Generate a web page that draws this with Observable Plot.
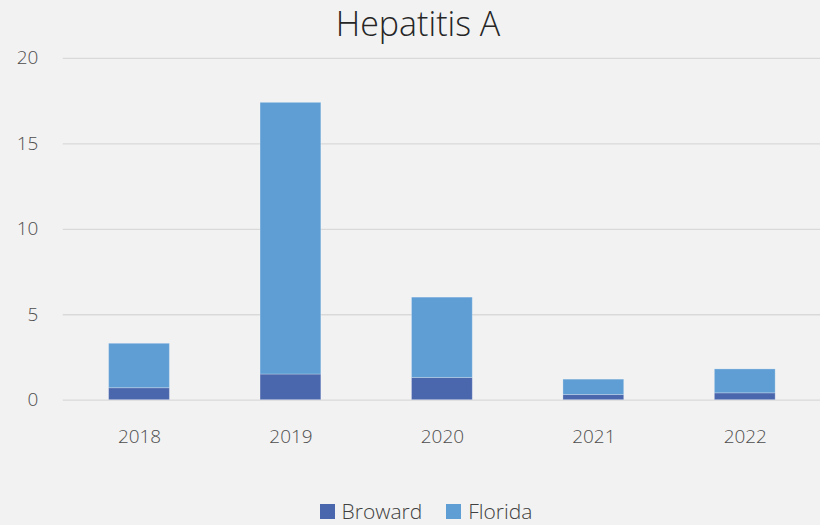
<!DOCTYPE html>
<html>
<head>
<meta charset="utf-8">
<script src="https://cdn.jsdelivr.net/npm/d3@7"></script>
<script src="https://cdn.jsdelivr.net/npm/@observablehq/plot@0.6"></script>
<style>
  html, body { margin: 0; padding: 0; background: #f2f2f2; width: 820px; height: 525px; overflow: hidden; font-family: "Open Sans", sans-serif; }
  #title { position: absolute; left: 8px; top: 0; width: 820px; text-align: center; font-size: 34px; font-weight: 300; color: #262626; line-height: 46px; }
  #chart { position: absolute; left: 0; top: 38px; }
  #legend { position: absolute; left: 16px; top: 497px; width: 820px; display: flex; justify-content: center; align-items: center; font-size: 21px; color: #404040; font-weight: 300;}
  .item { display: flex; align-items: center; margin: 0 12px; }
  .sw { width: 15px; height: 15px; margin-right: 7px; }
</style>
</head>
<body>
<div id="title">Hepatitis A</div>
<div id="chart"></div>
<div id="legend"></div>
<script>
const years = ["2018", "2019", "2020", "2021", "2022"];
const broward = [0.7, 1.5, 1.3, 0.3, 0.4];
const florida = [2.6, 15.9, 4.7, 0.9, 1.4];
const seriesNames = ["Broward", "Florida"];
const seriesColors = ["#4a66ac", "#5f9ed4"];
const yTicks = [0, 5, 10, 15, 20];

const data = [];
years.forEach((y, i) => {
  data.push({year: y, series: "Broward", value: broward[i]});
  data.push({year: y, series: "Florida", value: florida[i]});
});

const chart = Plot.plot({
  width: 823,
  height: 412,
  marginTop: 20,
  marginBottom: 49,
  marginLeft: 63,
  marginRight: 0,
  style: {background: "transparent", fontFamily: "Open Sans, sans-serif", fontSize: "19px", color: "#4d4d4d"},
  x: {domain: years, paddingInner: 0.6, paddingOuter: 0.3, label: null},
  y: {domain: [0, 20], ticks: yTicks, label: null},
  color: {domain: seriesNames, range: seriesColors},
  marks: [
    Plot.gridY(yTicks, {stroke: "#d9d9d9", strokeOpacity: 1, strokeWidth: 1.3}),
    Plot.barY(data, {x: "year", y: "value", fill: "series", order: seriesNames, stroke: "#ffffff", strokeOpacity: 0.25, strokeWidth: 1}),
    Plot.axisX({tickSize: 0, tickPadding: 29, fontSize: 19, fontWeight: 300}),
    Plot.axisY({ticks: yTicks, tickSize: 0, tickPadding: 25, fontSize: 19, fontWeight: 300})
  ]
});
document.getElementById("chart").appendChild(chart);

const legend = document.getElementById("legend");
seriesNames.forEach((n, i) => {
  const it = document.createElement("div");
  it.className = "item";
  const sw = document.createElement("div");
  sw.className = "sw";
  sw.style.background = seriesColors[i];
  const t = document.createElement("span");
  t.textContent = n;
  it.appendChild(sw); it.appendChild(t);
  legend.appendChild(it);
});
</script>
</body>
</html>
